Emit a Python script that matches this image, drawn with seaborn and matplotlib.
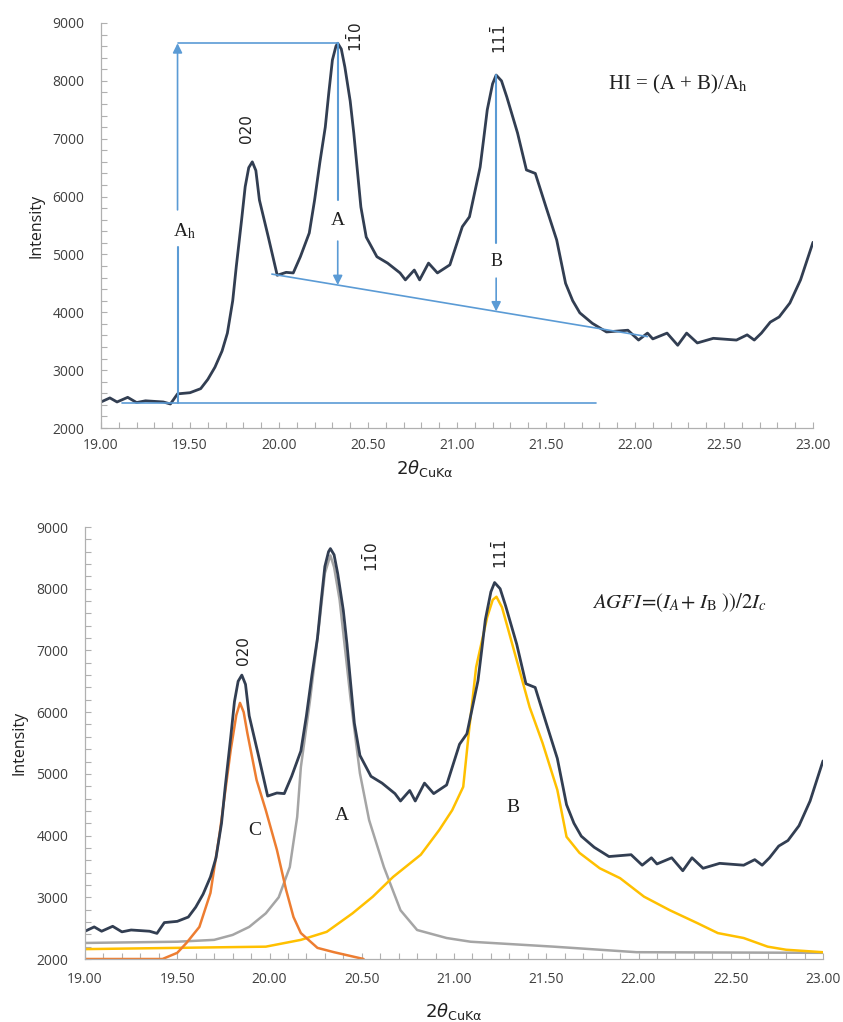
import numpy as np
import matplotlib
matplotlib.use('Agg')
import matplotlib.pyplot as plt
import seaborn as sns
from matplotlib.ticker import MultipleLocator, FormatStrFormatter

sns.set_style('ticks')
plt.rcParams['font.family'] = ['Open Sans', 'DejaVu Sans']

# measured pattern (same in both panels)
two_theta = [19.00, 19.05, 19.09, 19.15, 19.20, 19.25, 19.30, 19.35, 19.39, 19.43,
             19.50, 19.56, 19.60, 19.64, 19.68, 19.71, 19.74, 19.76, 19.79, 19.81,
             19.83, 19.85, 19.87, 19.89, 19.94, 19.99, 20.04, 20.08, 20.12, 20.17,
             20.20, 20.23, 20.26, 20.28, 20.30, 20.32, 20.33, 20.35, 20.37, 20.40,
             20.42, 20.46, 20.49, 20.55, 20.61, 20.68, 20.71, 20.76, 20.79, 20.84,
             20.89, 20.96, 21.03, 21.07, 21.13, 21.15, 21.17, 21.20, 21.22, 21.25,
             21.28, 21.34, 21.39, 21.44, 21.50, 21.56, 21.61, 21.65, 21.69, 21.76,
             21.84, 21.96, 22.02, 22.07, 22.10, 22.18, 22.24, 22.29, 22.35, 22.44,
             22.57, 22.63, 22.67, 22.71, 22.76, 22.81, 22.87, 22.93, 23.00]
intensity = [2450, 2520, 2450, 2530, 2440, 2470, 2460, 2450, 2415, 2590,
             2610, 2680, 2840, 3050, 3330, 3640, 4200, 4790, 5600, 6170,
             6500, 6600, 6450, 5940, 5300, 4640, 4690, 4680, 4960, 5370,
             5940, 6600, 7200, 7800, 8360, 8600, 8650, 8550, 8240, 7650,
             7100, 5820, 5300, 4960, 4850, 4680, 4560, 4730, 4560, 4850,
             4680, 4820, 5480, 5650, 6510, 7000, 7500, 7950, 8100, 8000,
             7720, 7100, 6460, 6400, 5820, 5250, 4500, 4200, 3990, 3810,
             3660, 3690, 3520, 3640, 3540, 3640, 3430, 3640, 3470, 3550,
             3520, 3610, 3520, 3640, 3830, 3920, 4160, 4560, 5210]

# deconvoluted components (bottom panel)
c_theta = [19.00, 19.42, 19.50, 19.55, 19.62, 19.68, 19.73, 19.79, 19.82, 19.84,
           19.86, 19.88, 19.93, 19.98, 20.04, 20.09, 20.13, 20.17, 20.26, 20.35,
           20.51]
c_int = [2000, 2000, 2100, 2260, 2520, 3070, 4040, 5390, 5950, 6150,
         6000, 5660, 4900, 4410, 3770, 3120, 2680, 2420, 2180, 2110,
         2000]

a_theta = [19.00, 19.50, 19.70, 19.80, 19.89, 19.98, 20.05, 20.11, 20.15, 20.17,
           20.22, 20.27, 20.30, 20.33, 20.35, 20.38, 20.44, 20.49, 20.54, 20.62,
           20.71, 20.80, 20.96, 21.09, 21.54, 21.99, 23.00]
a_int = [2260, 2280, 2310, 2390, 2520, 2740, 3000, 3490, 4300, 5110,
         6200, 7440, 8250, 8540, 8350, 7820, 6200, 5010, 4250, 3490,
         2790, 2470, 2340, 2280, 2200, 2110, 2100]

b_theta = [19.00, 19.98, 20.17, 20.31, 20.45, 20.56, 20.67, 20.82, 20.92, 20.99,
           21.05, 21.08, 21.12, 21.18, 21.21, 21.23, 21.26, 21.29, 21.34, 21.41,
           21.48, 21.56, 21.61, 21.68, 21.79, 21.90, 22.03, 22.17, 22.32, 22.43,
           22.57, 22.70, 22.80, 23.00]
b_int = [2160, 2200, 2310, 2440, 2740, 3010, 3330, 3690, 4090, 4410,
         4790, 5660, 6730, 7540, 7820, 7870, 7700, 7380, 6840, 6080,
         5500, 4740, 3980, 3720, 3470, 3310, 3010, 2790, 2580, 2420,
         2340, 2200, 2150, 2110]

# HI construction lines
base_level = 2430
base_x = [19.12, 21.78]
slope_x = [19.96, 22.07]
slope_y = [4660, 3580]
ah_x = 19.43

navy = '#323E52'
blue = '#5B9BD5'
orange = '#ED7D31'
grey = '#A5A5A5'
gold = '#FFC000'
axis_grey = '#B0B0B0'
label_col = '#404040'

fig = plt.figure(figsize=(8.43, 10.22), dpi=100)
ax1 = fig.add_axes([101 / 843, 1 - 428 / 1022, 712 / 843, 405 / 1022])
ax2 = fig.add_axes([85 / 843, 1 - 959 / 1022, 738 / 843, 432 / 1022])


def style_axes(ax, xlab_pos, ylab_pos, xpad):
    ax.set_xlim(19, 23)
    ax.set_ylim(2000, 9000)
    ax.xaxis.set_major_locator(MultipleLocator(0.5))
    ax.xaxis.set_minor_locator(MultipleLocator(0.1))
    ax.yaxis.set_major_locator(MultipleLocator(1000))
    ax.yaxis.set_minor_locator(MultipleLocator(200))
    ax.xaxis.set_major_formatter(FormatStrFormatter('%.2f'))
    ax.tick_params(which='both', direction='in', length=4, width=0.8,
                   color=axis_grey, labelsize=10, labelcolor=label_col)
    ax.tick_params(axis='y', which='both', pad=12)
    ax.tick_params(axis='x', which='both', pad=xpad)
    sns.despine(ax=ax)
    for s in ['left', 'bottom']:
        ax.spines[s].set_color(axis_grey)
        ax.spines[s].set_linewidth(0.9)
    ax.set_ylabel('Intensity', fontsize=11.5, color='#202020')
    ax.yaxis.set_label_coords(*ylab_pos)
    ax.set_xlabel(r'$2\theta_{\mathrm{CuK\alpha}}$', fontsize=13,
                  color='#202020', math_fontfamily='dejavusans')
    ax.xaxis.set_label_coords(*xlab_pos)


def peak_label(ax, x, y, txt):
    ax.text(x, y, txt, rotation=90, ha='center', va='center', fontsize=11,
            color='#202020', family=['DejaVu Sans'], math_fontfamily='dejavusans')


def serif(ax, x, y, txt, size=14):
    ax.text(x, y, txt, ha='center', va='center', fontsize=size, color='#202020',
            family=['Liberation Serif'], math_fontfamily='stix')


# ---- top panel: HI ----
sns.lineplot(x=two_theta, y=intensity, color=navy, lw=2.0, ax=ax1)

peak_a = int(np.argmax(intensity))
top_level = intensity[peak_a]
a_x = two_theta[peak_a]
b_idx = int(np.argmax([v if t > 21 else 0 for t, v in zip(two_theta, intensity)]))
b_x, b_top = two_theta[b_idx], intensity[b_idx]
a_base = np.interp(a_x, slope_x, slope_y)
b_base = np.interp(b_x, slope_x, slope_y)

arrow = dict(arrowstyle='-|>', color=blue, lw=1.2, mutation_scale=14,
             shrinkA=0, shrinkB=0)
ax1.plot(base_x, [base_level, base_level], color=blue, lw=1.2)
ax1.plot(slope_x, slope_y, color=blue, lw=1.2)
ax1.plot([ah_x, a_x], [top_level, top_level], color=blue, lw=1.2)
# A_h
ax1.plot([ah_x, ah_x], [base_level, 5130], color=blue, lw=1.5)
ax1.annotate('', xy=(ah_x, top_level), xytext=(ah_x, 5770), arrowprops=arrow)
serif(ax1, ah_x + 0.04, 5400, r'A$_\mathrm{h}$')
# A
ax1.plot([a_x, a_x], [top_level, 5940], color=blue, lw=1.5)
ax1.annotate('', xy=(a_x, a_base), xytext=(a_x, 5230), arrowprops=arrow)
serif(ax1, a_x, 5580, 'A')
# B
ax1.plot([b_x, b_x], [b_top, 5200], color=blue, lw=1.5)
ax1.annotate('', xy=(b_x, b_base), xytext=(b_x, 4590), arrowprops=arrow)
serif(ax1, b_x, 4870, 'B', size=13)

serif(ax1, 22.24, 7930, r'HI = (A + B)/A$_\mathrm{h}$', size=15)
peak_label(ax1, 19.82, 7180, '020')
peak_label(ax1, 20.43, 8760, r'1$\bar{1}$0')
peak_label(ax1, 21.24, 8720, r'11$\bar{1}$')

style_axes(ax1, (0.455, -0.074), (-0.080, 0.5), xpad=7)

# ---- bottom panel: AGFI ----
sns.lineplot(x=a_theta, y=a_int, color=grey, lw=1.8, ax=ax2)
sns.lineplot(x=b_theta, y=b_int, color=gold, lw=1.8, ax=ax2)
sns.lineplot(x=c_theta, y=c_int, color=orange, lw=1.8, ax=ax2)
sns.lineplot(x=two_theta, y=intensity, color=navy, lw=2.0, ax=ax2)

peak_label(ax2, 19.86, 7000, '020')
peak_label(ax2, 20.55, 8510, r'1$\bar{1}$0')
peak_label(ax2, 21.25, 8560, r'11$\bar{1}$')
serif(ax2, 19.92, 4090, 'C')
serif(ax2, 20.39, 4330, 'A')
serif(ax2, 21.32, 4460, 'B')
serif(ax2, 22.22, 7770, r'$AGFI\!=\!(I_A\!+\,I_\mathrm{B}\;))/2I_c$', size=15)

style_axes(ax2, (0.5, -0.098), (-0.0775, 0.5), xpad=9)

fig.savefig('out.png', dpi=100)
